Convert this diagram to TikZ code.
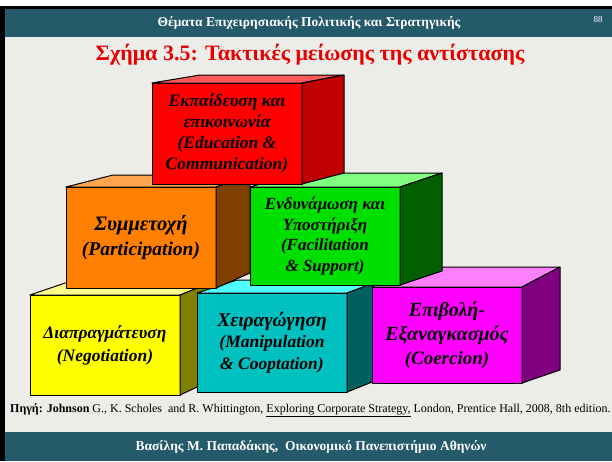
\documentclass[tikz,border=0pt]{standalone}
\usepackage{fontspec}
\setmainfont{Liberation Serif}
\usetikzlibrary{calc}

\definecolor{band}{RGB}{36,90,106}
\definecolor{paper}{RGB}{236,236,233}
\definecolor{titlered}{RGB}{230,0,0}
% block colours: front, top, side
\definecolor{edufront}{RGB}{255,0,0}      \definecolor{edutop}{RGB}{255,90,90}     \definecolor{eduside}{RGB}{192,0,0}
\definecolor{partfront}{RGB}{255,128,0}   \definecolor{parttop}{RGB}{255,165,80}   \definecolor{partside}{RGB}{128,64,0}
\definecolor{facilfront}{RGB}{0,224,0}    \definecolor{faciltop}{RGB}{128,255,128} \definecolor{facilside}{RGB}{0,96,0}
\definecolor{negotfront}{RGB}{255,255,0}  \definecolor{negottop}{RGB}{255,255,140} \definecolor{negotside}{RGB}{128,128,0}
\definecolor{manipfront}{RGB}{0,192,192}  \definecolor{maniptop}{RGB}{80,255,255}  \definecolor{manipside}{RGB}{0,96,96}
\definecolor{coercfront}{RGB}{255,0,255}  \definecolor{coerctop}{RGB}{255,128,255} \definecolor{coercside}{RGB}{128,0,128}

% top and right faces of a block: node, dx left, dx right, dy top, dy bottom
\newcommand\blockfaces[5]{%
  \filldraw[face, fill=#1top] (#1.north west) -- ++(#2,#4) -- ($(#1.north east)+(#3,#4)$) -- (#1.north east) -- cycle;
  \filldraw[face, fill=#1side] (#1.north east) -- ++(#3,#4) -- ($(#1.south east)+(#3,#5)$) -- (#1.south east) -- cycle;}
% font size shorthand
\newcommand\fs[2]{\fontsize{#1}{#2}\selectfont}

\begin{document}
\begin{tikzpicture}[x=1pt, y=-1pt,
		face/.style={draw=black, line width=1pt, line join=round},
		block/.style={face, fill=#1front, anchor=north west, inner sep=0pt, outer sep=0pt,
			align=center, minimum width=150pt},
		band/.style={fill=band, draw=none}
		]
		\useasboundingbox (0,0) rectangle (612,461);
		
		% slide background and bands
		\fill[white] (0,0) rectangle (612,461);
		\fill[paper] (0,6) rectangle (612,461);
		\fill[band] (0,9) rectangle (612,37);
		\fill[band] (0,432) rectangle (612,461);
		\fill[black] (0,6) rectangle (612,9);
		\fill[black] (0,6) rectangle (5,461);
		
		\node[text=white, font=\bfseries\fs{13.5}{15}] (head) at (309,23) {Θέματα Επιχειρησιακής Πολιτικής και Στρατηγικής};
		\node[text=white, font=\fs{9}{11}] (page) at (598,20) {88};
		\node[text=titlered, font=\bfseries\fs{22}{26}] (title) at (310,55) {Σχήμα 3.5: Τακτικές μείωσης της αντίστασης};
		
		% bottom row
		\node[block=negot, minimum height=100pt, font=\bfseries\itshape\fs{17.5}{23}] (negot) at (30,295)
			{Διαπραγμάτευση\\ (Negotiation)};
		\blockfaces{negot}{35}{30}{-12}{-14}
		
		\node[block=manip, minimum height=99pt, font=\bfseries\itshape\fs{17.5}{21.5}] (manip) at (197,293)
			{\fs{19.5}{21.5}Χειραγώγηση\\ (Manipulation\\ \& Cooptation)};
		\blockfaces{manip}{40}{35}{-13}{-14}
		
		\node[block=coerc, minimum height=96pt, font=\bfseries\itshape\fs{20}{24}] (coerc) at (372,287)
			{Επιβολή-\\ Εξαναγκασμός\\ \fs{19}{24}(Coercion)};
		\blockfaces{coerc}{31}{38}{-20}{-13}
		
		% middle row
		\node[block=part, minimum height=101pt, font=\bfseries\itshape\fs{19.5}{25}] (part) at (66,187)
			{\fs{20.5}{25}Συμμετοχή\\ (Participation)};
		\blockfaces{part}{47}{34}{-12}{-15}
		
		\node[block=facil, minimum height=98pt, font=\bfseries\itshape\fs{17}{20.5}] (facil) at (250,187)
			{Ενδυνάμωση και\\ Υποστήριξη\\ (Facilitation\\ \& Support)};
		\blockfaces{facil}{48}{42}{-14}{-14}
		
		% top block
		\node[block=edu, minimum height=101pt, font=\bfseries\itshape\fs{17.5}{21}] (edu) at (152,83)
			{Εκπαίδευση και\\ επικοινωνία\\ (Education \&\\ Communication)};
		\blockfaces{edu}{48}{42}{-8}{-11}
		
		% source and footer
		\node[anchor=west, font=\fs{12}{14}, inner sep=0pt] (source) at (10,410)
			{\textbf{Πηγή: Johnson} G., K. Scholes\ \ and R. Whittington, \underline{Exploring Corporate Strategy,} London, Prentice Hall, 2008, 8th edition.};
		\node[text=white, font=\bfseries\fs{13.5}{15}] (foot) at (311,447) {Βασίλης Μ. Παπαδάκης,\ \ Οικονομικό Πανεπιστήμιο Αθηνών};
\end{tikzpicture}
\end{document}
